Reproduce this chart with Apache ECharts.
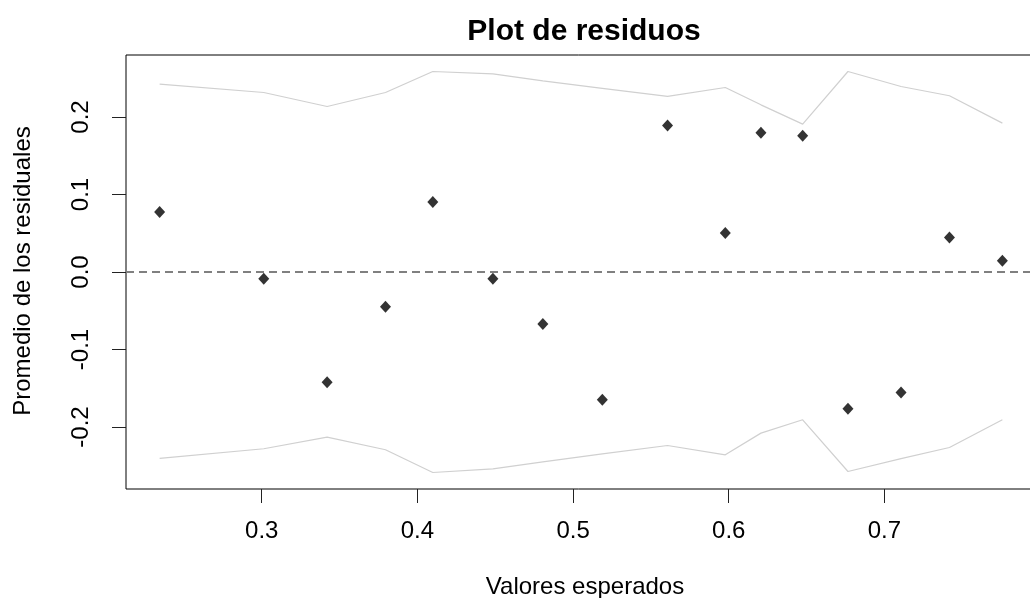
<!DOCTYPE html>
<html>
<head>
<meta charset="utf-8">
<script src="https://cdn.jsdelivr.net/npm/echarts@6/dist/echarts.min.js"></script>
<style>
html,body{margin:0;padding:0;background:#fff;}
#chart{width:1030px;height:598px;}
</style>
</head>
<body>
<div id="chart"></div>
<script>
const xValues   = [0.2344, 0.3013, 0.3420, 0.3795, 0.4099, 0.4485, 0.4806, 0.5188, 0.5607, 0.5978, 0.6207, 0.6475, 0.6766, 0.7107, 0.7418, 0.7758];
const residuals = [0.0773, -0.0088, -0.1421, -0.0449, 0.0902, -0.0088, -0.0672, -0.1649, 0.1890, 0.0502, 0.1796, 0.1757, -0.1765, -0.1555, 0.0445, 0.0145];
const upperBand = [0.2425, 0.2316, 0.2135, 0.2316, 0.2587, 0.2557, 0.2465, 0.2369, 0.2265, 0.2381, 0.2157, 0.1908, 0.2587, 0.2394, 0.2274, 0.1921];
const lowerBand = [-0.2406, -0.2281, -0.2130, -0.2294, -0.2587, -0.2540, -0.2449, -0.2346, -0.2239, -0.2359, -0.2079, -0.1907, -0.2574, -0.2409, -0.2265, -0.1907];
const xTicks = [0.3, 0.4, 0.5, 0.6, 0.7];
const yTicks = [-0.2, -0.1, 0.0, 0.1, 0.2];
const titleText = 'Plot de residuos';
const xLabel = 'Valores esperados';
const yLabel = 'Promedio de los residuales';

const pairs = (xs, ys) => xs.map((x, i) => [x, ys[i]]);
const FONT = '"Liberation Sans", Arial, sans-serif';

const chart = echarts.init(document.getElementById('chart'), null, {renderer: 'canvas'});
chart.setOption({
  animation: false,
  backgroundColor: '#ffffff',
  grid: {
    left: 126, top: 55, width: 910, height: 434,
    outerBoundsMode: 'none', containLabel: false,
    show: true, borderColor: '#000', borderWidth: 1, backgroundColor: 'transparent'
  },
  xAxis: {
    type: 'value', min: 0.2128, max: 0.7974,
    axisLine: {show: false, onZero: false},
    splitLine: {show: false},
    axisTick: {show: true, length: 14, customValues: xTicks, lineStyle: {color: '#222', width: 1}},
    axisLabel: {customValues: xTicks, margin: 30, fontSize: 24, fontFamily: FONT, color: '#000',
      formatter: v => v.toFixed(1)}
  },
  yAxis: {
    type: 'value', min: -0.28, max: 0.28,
    axisLine: {show: false, onZero: false},
    splitLine: {show: false},
    axisTick: {show: true, length: 14, customValues: yTicks, lineStyle: {color: '#222', width: 1}},
    axisLabel: {customValues: yTicks, rotate: 90, margin: 33, fontSize: 24, fontFamily: FONT, color: '#000',
      formatter: v => v.toFixed(1)}
  },
  series: [
    {
      type: 'line', data: pairs(xValues, upperBand), symbol: 'none', silent: true,
      lineStyle: {color: '#d0d0d0', width: 1.2}, z: 1
    },
    {
      type: 'line', data: pairs(xValues, lowerBand), symbol: 'none', silent: true,
      lineStyle: {color: '#d0d0d0', width: 1.2}, z: 1
    },
    {
      type: 'scatter', data: pairs(xValues, residuals), symbol: 'diamond', symbolSize: [11, 12],
      itemStyle: {color: '#000'}, z: 3,
      markLine: {
        silent: true, symbol: 'none', label: {show: false},
        lineStyle: {color: '#808080', width: 2, type: [8, 5]},
        data: [{yAxis: 0}]
      }
    }
  ],
  graphic: [
    {type: 'text', x: 584, y: 32, style: {text: titleText, font: 'bold 30px ' + FONT, fill: '#000', textAlign: 'center', textVerticalAlign: 'middle'}},
    {type: 'text', x: 585, y: 587, style: {text: xLabel, font: '24px ' + FONT, fill: '#000', textAlign: 'center', textVerticalAlign: 'middle'}},
    {type: 'text', x: 23, y: 271, rotation: Math.PI / 2, style: {text: yLabel, font: '24px ' + FONT, fill: '#000', textAlign: 'center', textVerticalAlign: 'middle'}}
  ]
});
</script>
</body>
</html>
